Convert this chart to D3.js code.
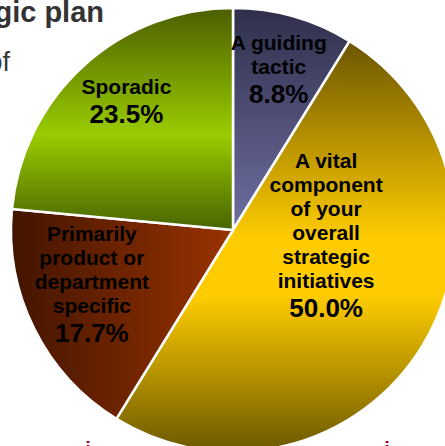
<!DOCTYPE html>
<html>
<head>
<meta charset="utf-8">
<script src="https://cdn.jsdelivr.net/npm/d3@7"></script>
<style>
  html, body { margin: 0; padding: 0; background: #fff; }
  svg { display: block; font-family: "Liberation Sans", Arial, sans-serif; }
  .lbl { font-weight: bold; fill: #000; }
</style>
</head>
<body>
<div id="chart"></div>
<script>
// slices clockwise from 12 o'clock
var categories = ["A guiding tactic", "A vital component of your overall strategic initiatives",
                  "Primarily product or department specific", "Sporadic"];
var labelLines = [["A guiding", "tactic"],
                  ["A vital", "component", "of your", "overall", "strategic", "initiatives"],
                  ["Primarily", "product or", "department", "specific"],
                  ["Sporadic"]];
var values = [8.8, 50.0, 17.7, 23.5];

var width = 445, height = 446;
var cx = 233, cy = 230, radius = 222;

// gradient per slice (vertical unless horiz)
var grads = [
  { horiz: false, stops: [[0, "#2f2f4b"], [1, "#6f6fa2"]] },
  { horiz: false, stops: [[0, "#6b5500"], [0.48, "#ffcc00"], [0.62, "#ffcc00"], [1, "#6b5800"]] },
  { horiz: true,  stops: [[0, "#421400"], [1, "#9a3300"]] },
  { horiz: false, stops: [[0, "#4b5e00"], [0.57, "#99cc00"], [1, "#486400"]] }
];
// label block placement: angle shift from slice middle (deg), radius fraction
var labelPlace = [[0, 0.755], [-28.6, 0.42], [5.7, 0.68], [2.8, 0.755]];

var svg = d3.select("#chart").append("svg")
  .attr("width", width)
  .attr("height", height);

var defs = svg.append("defs");
grads.forEach(function (g, i) {
  var lg = defs.append("linearGradient")
    .attr("id", "grad" + i)
    .attr("x1", 0).attr("y1", 0)
    .attr("x2", g.horiz ? 1 : 0).attr("y2", g.horiz ? 0 : 1);
  g.stops.forEach(function (s) {
    lg.append("stop").attr("offset", s[0]).attr("stop-color", s[1]);
  });
});

// bits of the slide text around the cropped chart
svg.append("text")
  .attr("x", 104).attr("y", 22)
  .attr("text-anchor", "end")
  .style("font-size", "29px").style("font-weight", "bold")
  .style("fill", "#333")
  .text("Strategic plan");

svg.append("text")
  .attr("x", 10).attr("y", 71)
  .attr("text-anchor", "end")
  .style("font-size", "27px")
  .style("fill", "#3a3a3a")
  .text("of");

svg.append("text").attr("x", 88).attr("y", 456).attr("text-anchor", "middle")
  .style("font-size", "20px").style("font-weight", "bold").style("fill", "#990033").text("i");
svg.append("text").attr("x", 387).attr("y", 456).attr("text-anchor", "middle")
  .style("font-size", "20px").style("font-weight", "bold").style("fill", "#990033").text("i");

var pie = d3.pie().sort(null).value(function (d) { return d; });
var arcs = pie(values);

var arc = d3.arc().innerRadius(0).outerRadius(radius);

var g = svg.append("g")
  .attr("transform", "translate(" + cx + "," + cy + ")");

g.selectAll("path.slice")
  .data(arcs)
  .enter().append("path")
  .attr("class", "slice")
  .attr("d", arc)
  .attr("fill", function (d, i) { return "url(#grad" + i + ")"; })
  .attr("stroke", "#fff")
  .attr("stroke-width", 2.5)
  .attr("stroke-linejoin", "round");

var lineH = 24, pctGap = 29, capH = 15;

arcs.forEach(function (d, i) {
  var lines = labelLines[i];
  var ang = (d.startAngle + d.endAngle) / 2 + labelPlace[i][0] * Math.PI / 180;
  var r = labelPlace[i][1] * radius;
  var mx = r * Math.sin(ang), my = -r * Math.cos(ang);
  var blockH = lineH * (lines.length - 1) + pctGap + capH;
  var y0 = my - blockH / 2 + capH;

  var t = g.append("text")
    .attr("class", "lbl")
    .attr("text-anchor", "middle");
  lines.forEach(function (s, k) {
    t.append("tspan")
      .attr("x", mx)
      .attr("y", y0 + k * lineH)
      .style("font-size", "21px")
      .text(s);
  });
  t.append("tspan")
    .attr("x", mx)
    .attr("y", y0 + lineH * (lines.length - 1) + pctGap)
    .style("font-size", "26px")
    .text(d3.format(".1f")(values[i]) + "%");
});
</script>
</body>
</html>
